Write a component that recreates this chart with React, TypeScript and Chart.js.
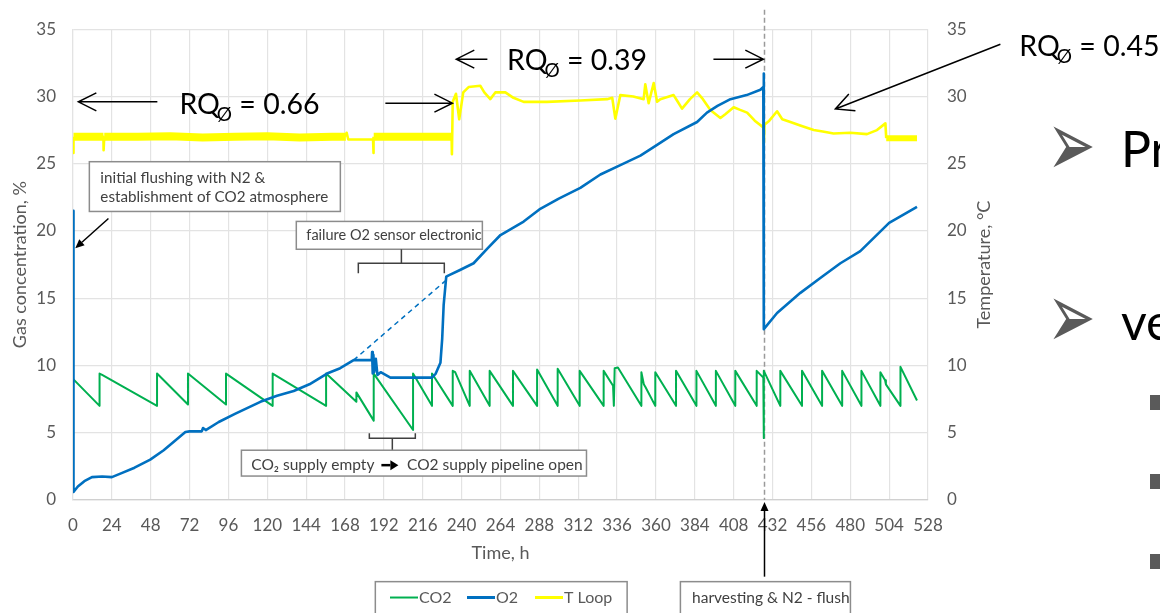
import React, { useEffect, useRef } from "react";
import { Chart, registerables } from "chart.js";

Chart.register(...registerables);

// ---------------- data ----------------
const X_MIN = 0;
const X_MAX = 528;
const X_STEP = 24;
const Y_MAX = 35;
const Y_STEP = 5;

const SERIES_NAMES = ["CO2", "O2", "T Loop"];

const CO2_TIME = [
  0, 16.4, 16.4, 18, 51.9, 51.9, 71.0, 71.0, 94.5, 94.5, 123.3, 123.3, 156.3, 156.3,
  175.0, 175.0, 185.7, 185.7, 210.0, 210.0, 221.7, 221.7, 234.5, 234.5, 236, 245.0, 245.0,
  257.3, 257.3, 271.7, 271.7, 286.6, 286.6, 299.3, 299.3, 312.9, 312.9, 327.7, 327.7,
  333.5, 334.0, 334.5, 336.5, 351.0, 351.0, 352.5, 353.5, 359.6, 359.6, 372.4, 372.4,
  385.0, 385.0, 397.0, 397.0, 409.0, 409.0, 422.2, 422.2, 426.3, 426.5, 426.7, 436.8,
  436.8, 450.2, 450.2, 462.6, 462.6, 475.0, 475.0, 486.9, 486.9, 498.6, 498.6, 501.5,
  502.0, 511.0, 511.0, 521.2,
];
const CO2_VALUE = [
  9.0, 7.0, 9.4, 9.3, 7.0, 9.4, 7.1, 9.4, 7.1, 9.4, 7.0, 9.4, 7.0, 9.4,
  7.3, 8.0, 5.9, 9.4, 5.2, 9.4, 7.0, 9.4, 7.0, 9.6, 9.5, 7.0, 9.6,
  7.0, 9.6, 7.0, 9.6, 7.0, 9.7, 7.0, 9.75, 7.0, 9.6, 7.0, 9.6,
  8.5, 7.0, 9.8, 9.85, 7.0, 9.5, 8.6, 8.4, 7.0, 9.5, 7.0, 9.6,
  7.0, 9.6, 7.0, 9.6, 7.0, 9.6, 7.0, 9.6, 9.1, 4.6, 9.6, 7.0,
  9.6, 7.0, 9.6, 7.0, 9.6, 7.0, 9.6, 7.0, 9.6, 7.0, 9.5, 8.9,
  8.6, 7.0, 9.9, 7.4,
];

const O2_TIME = [
  0, 0.2, 0.4, 3, 7, 11.7, 18, 24, 30, 38, 47.7, 56, 65, 69.4, 72, 79.5, 80.3, 82, 90,
  100, 115.7, 126, 136.3, 146, 156.9, 165, 173.3, 184.5, 184.7, 185.1, 185.5, 186.0,
  187.0, 188.0, 190, 196, 221.7, 224, 226.9, 228.0, 228.9, 230.5, 232, 239, 247.4, 256,
  264, 278.3, 288, 300, 313.3, 325.7, 338, 350.4, 360.7, 370.9, 385.4, 391.5, 398, 406,
  416, 424.5, 426.3, 426.5, 426.7, 434.8, 449.2, 461.5, 473.9, 486.2, 504, 521.2,
];
const O2_VALUE = [
  21.5, 14.0, 0.6, 1.0, 1.4, 1.7, 1.75, 1.7, 2.0, 2.4, 3.0, 3.7, 4.6, 5.05, 5.1, 5.1, 5.35, 5.2, 5.8,
  6.4, 7.3, 7.75, 8.1, 8.6, 9.4, 9.8, 10.4, 10.4, 11.0, 9.4, 10.8, 9.5,
  10.5, 9.3, 9.5, 9.1, 9.1, 9.4, 10.2, 12.0, 14.5, 16.6, 16.7, 17.1, 17.6, 18.7,
  19.7, 20.7, 21.6, 22.4, 23.2, 24.2, 24.9, 25.6, 26.4, 27.2, 28.1, 28.8, 29.3, 29.8,
  30.1, 30.5, 30.7, 31.7, 12.7, 13.9, 15.4, 16.5, 17.6, 18.5, 20.6, 21.8,
];

// extrapolated O2 during sensor failure (dashed)
const O2_TREND_TIME = [173.3, 231];
const O2_TREND_VALUE = [10.4, 16.4];

const T_TIME = [
  0, 0.3, 18.8, 18.9, 19.3, 40, 60, 80, 100, 120, 140, 160, 168.5, 169, 170, 185.3, 185.5,
  185.7, 233.8, 234.0, 234.5, 236.5, 238.5, 241, 244.3, 251.5, 254, 257.7, 260.8, 267,
  272, 278.3, 292.7, 313.3, 329.8, 333, 334.9, 338, 346, 352.4, 353.4, 355.5, 358.6,
  360.7, 362.7, 370.9, 373, 376.1, 381, 385.4, 389, 393.6, 399.8, 403, 408, 412, 416.3,
  421, 426.3, 426.6, 427, 430, 434.8, 438, 443, 450, 457.4, 463, 469.7, 480, 490.3,
  496.5, 501.7, 502.2, 521.2,
];
const T_VALUE = [
  25.8, 27.0, 27.0, 26.0, 27.0, 27.0, 27.05, 26.95, 27.0, 27.05, 26.95, 27.0, 27.0, 27.3, 26.8, 26.8, 25.8,
  27.0, 27.0, 25.7, 29.6, 30.2, 28.3, 30.3, 30.7, 30.8, 30.3, 29.8, 30.3, 30.3,
  29.9, 29.6, 29.6, 29.7, 29.8, 29.9, 28.35, 30.1, 30.0, 29.8, 30.9, 29.5, 31.0,
  29.6, 29.8, 30.1, 29.7, 29.1, 29.8, 30.3, 29.8, 29.0, 28.4, 28.7, 29.2, 29.0, 28.8,
  28.2, 27.7, 26.5, 27.9, 28.2, 28.9, 28.3, 28.1, 27.8, 27.5, 27.4, 27.25, 27.3, 27.2,
  27.5, 28.0, 26.9, 26.9,
];

// time windows in which the temperature signal oscillates quickly (drawn as a band)
const T_NOISY_WINDOWS: number[][] = [
  [0.3, 18.8],
  [19.3, 168.5],
  [185.7, 233.8],
  [502.2, 522],
];

const HARVEST_TIME = 427;

// ---------------- styles ----------------
const FONT = "Lato, 'DejaVu Sans', sans-serif";
const GREY_TEXT = "#595959";
const GRID = "#e3e3e3";
const COLORS = { co2: "#00b050", o2: "#0070c0", t: "#ffff00" };

const toPoints = (xs: number[], ys: number[]) => xs.map((x, i) => ({ x, y: ys[i] }));

function openArrow(ctx: CanvasRenderingContext2D, x1: number, y1: number, x2: number, y2: number, head = 18, spread = 9) {
  const a = Math.atan2(y2 - y1, x2 - x1);
  const bx = x2 - head * Math.cos(a);
  const by = y2 - head * Math.sin(a);
  const nx = -Math.sin(a) * spread;
  const ny = Math.cos(a) * spread;
  ctx.beginPath();
  ctx.moveTo(x1, y1);
  ctx.lineTo(x2, y2);
  ctx.moveTo(bx + nx, by + ny);
  ctx.lineTo(x2, y2);
  ctx.lineTo(bx - nx, by - ny);
  ctx.stroke();
}

function filledArrow(ctx: CanvasRenderingContext2D, x1: number, y1: number, x2: number, y2: number, head = 9, spread = 4) {
  const a = Math.atan2(y2 - y1, x2 - x1);
  const bx = x2 - head * Math.cos(a);
  const by = y2 - head * Math.sin(a);
  const nx = -Math.sin(a) * spread;
  const ny = Math.cos(a) * spread;
  ctx.beginPath();
  ctx.moveTo(x1, y1);
  ctx.lineTo(bx, by);
  ctx.stroke();
  ctx.beginPath();
  ctx.moveTo(x2, y2);
  ctx.lineTo(bx + nx, by + ny);
  ctx.lineTo(bx - nx, by - ny);
  ctx.closePath();
  ctx.fill();
}

function drawRQ(ctx: CanvasRenderingContext2D, x: number, y: number, val: string) {
  ctx.fillStyle = "#000";
  ctx.textAlign = "left";
  ctx.textBaseline = "alphabetic";
  ctx.font = `28.5px ${FONT}`;
  ctx.fillText("RQ", x, y);
  const w = ctx.measureText("RQ").width;
  ctx.font = `19px ${FONT}`;
  ctx.fillText("Ø", x + w - 3, y + 7);
  const w2 = ctx.measureText("Ø").width;
  ctx.font = `28.5px ${FONT}`;
  ctx.fillText(" = " + val, x + w - 3 + w2, y);
}

function box(ctx: CanvasRenderingContext2D, x1: number, y1: number, x2: number, y2: number) {
  ctx.fillStyle = "#fff";
  ctx.fillRect(x1, y1, x2 - x1, y2 - y1);
  ctx.strokeStyle = "#8c8c8c";
  ctx.lineWidth = 1.5;
  ctx.strokeRect(x1, y1, x2 - x1, y2 - y1);
}

const annotations = {
  id: "annotations",
  beforeDatasetsDraw(chart: any) {
    const ctx = chart.ctx as CanvasRenderingContext2D;
    const xs = chart.scales.x;
    const ys = chart.scales.y;
    const hx = Math.round(xs.getPixelForValue(HARVEST_TIME)) + 0.5;
    ctx.save();
    ctx.strokeStyle = "#9a9a9a";
    ctx.lineWidth = 1.5;
    ctx.setLineDash([5, 3]);
    ctx.beginPath();
    ctx.moveTo(hx, ys.getPixelForValue(36.45));
    ctx.lineTo(hx, ys.getPixelForValue(0));
    ctx.stroke();
    ctx.restore();
  },
  afterDatasetsDraw(chart: any) {
    const ctx = chart.ctx as CanvasRenderingContext2D;
    const xs = chart.scales.x;
    const ys = chart.scales.y;
    const X = (t: number) => xs.getPixelForValue(t);
    const Y = (v: number) => ys.getPixelForValue(v);
    ctx.save();

    // RQ arrows and labels
    ctx.strokeStyle = "#000";
    ctx.lineWidth = 1.5;
    openArrow(ctx, X(52.1), Y(29.6), X(3.3), Y(29.6));
    openArrow(ctx, X(192.9), Y(29.5), X(234.3), Y(29.5));
    openArrow(ctx, X(255.9), Y(32.77), X(236.7), Y(32.77));
    openArrow(ctx, X(395.5), Y(32.77), X(426.3), Y(32.77));
    openArrow(ctx, X(572.7), Y(33.88), X(470.8), Y(29.07));
    drawRQ(ctx, X(65.7), Y(28.7), "0.66");
    drawRQ(ctx, X(268), Y(31.93), "0.39");
    drawRQ(ctx, X(584.4), Y(33.04), "0.45");

    // initial flushing note
    box(ctx, X(10.1), Y(25.15), X(165.1), Y(21.45));
    ctx.fillStyle = "#404040";
    ctx.font = `15.2px ${FONT}`;
    ctx.textAlign = "left";
    ctx.textBaseline = "middle";
    ctx.fillText("initial flushing with N2 &", X(16.9), Y(23.96));
    ctx.fillText("establishment of CO2 atmosphere", X(16.9), Y(22.49));
    ctx.strokeStyle = "#000";
    ctx.fillStyle = "#000";
    ctx.lineWidth = 1.5;
    filledArrow(ctx, X(21.9), Y(20.93), X(1.4), Y(18.71));

    // sensor failure note
    box(ctx, X(137.9), Y(20.71), X(252.8), Y(18.64));
    ctx.fillStyle = "#404040";
    ctx.font = `14.5px ${FONT}`;
    ctx.fillText("failure O2 sensor electronic", X(144.1), Y(19.67));
    ctx.strokeStyle = "#404040";
    ctx.lineWidth = 1.5;
    ctx.beginPath();
    ctx.moveTo(X(176.2), Y(16.86));
    ctx.lineTo(X(176.2), Y(17.6));
    ctx.lineTo(X(229.3), Y(17.6));
    ctx.lineTo(X(229.3), Y(16.86));
    ctx.moveTo(X(202.8), Y(17.6));
    ctx.lineTo(X(202.8), Y(18.64));
    ctx.stroke();

    // CO2 supply note
    ctx.beginPath();
    ctx.moveTo(X(183.0), Y(4.96));
    ctx.lineTo(X(183.0), Y(4.59));
    ctx.lineTo(X(211.4), Y(4.59));
    ctx.lineTo(X(211.4), Y(4.96));
    ctx.moveTo(X(197.2), Y(4.59));
    ctx.lineTo(X(197.2), Y(3.7));
    ctx.stroke();
    box(ctx, X(104), Y(3.7), X(317.1), Y(1.78));
    ctx.fillStyle = "#404040";
    ctx.font = `15.5px ${FONT}`;
    const cy = Y(2.59);
    const left1 = "CO\u2082 supply empty";
    ctx.fillText(left1, X(110.1), cy);
    ctx.fillStyle = "#000";
    ctx.strokeStyle = "#000";
    ctx.lineWidth = 2.5;
    const ax = X(110.1) + ctx.measureText(left1).width + 7;
    filledArrow(ctx, ax, cy, ax + 17, cy, 8, 5);
    ctx.fillStyle = "#404040";
    ctx.fillText("CO2 supply pipeline open", X(206.3), cy);

    // harvest note
    ctx.strokeStyle = "#000";
    ctx.fillStyle = "#000";
    ctx.lineWidth = 1.5;
    const hx = Math.round(X(HARVEST_TIME)) + 0.5;
    filledArrow(ctx, hx, Y(-5.7), hx, Y(-0.15));
    box(ctx, X(375.1), Y(-6.07), X(480.1), Y(-8.6));
    ctx.fillStyle = "#404040";
    ctx.font = `15.5px ${FONT}`;
    ctx.fillText("harvesting & N2 - flush", X(382.3), Y(-7.25));

    // legend
    box(ctx, X(186.7), Y(-6.07), X(342.2), Y(-8.6));
    const ly = Y(-7.25);
    const items = [
      { c: COLORS.co2, w: 2, x: 390, name: SERIES_NAMES[0] },
      { c: COLORS.o2, w: 3, x: 467, name: SERIES_NAMES[1] },
      { c: COLORS.t, w: 3, x: 535, name: SERIES_NAMES[2] },
    ];
    ctx.font = `16px ${FONT}`;
    for (const it of items) {
      ctx.strokeStyle = it.c;
      ctx.lineWidth = it.w;
      ctx.beginPath();
      ctx.moveTo(it.x, ly);
      ctx.lineTo(it.x + 28, ly);
      ctx.stroke();
      ctx.fillStyle = GREY_TEXT;
      ctx.fillText(it.name, it.x + 29, ly);
    }

    // right axis title (reads bottom to top)
    ctx.save();
    ctx.translate(984, (chart.chartArea.top + chart.chartArea.bottom) / 2);
    ctx.rotate(-Math.PI / 2);
    ctx.textAlign = "center";
    ctx.fillStyle = GREY_TEXT;
    ctx.font = `18px ${FONT}`;
    ctx.fillText("Temperature, °C", 0, 0);
    ctx.restore();

    // slide text fragments at the right edge
    ctx.fillStyle = "#5a5a5a";
    ctx.font = `58px 'DejaVu Sans'`;
    ctx.textBaseline = "alphabetic";
    for (const by of [176, 348]) {
      ctx.save();
      ctx.translate(1047, by);
      ctx.scale(1, 1.6);
      ctx.fillText("\u27A2", 0, 0);
      ctx.restore();
    }
    ctx.fillStyle = "#000";
    ctx.font = `50px ${FONT}`;
    ctx.fillText("Pr", 1121, 167);
    ctx.fillText("ve", 1121, 340);
    ctx.fillStyle = "#5a5a5a";
    ctx.fillRect(1150, 395, 15, 15);
    ctx.fillRect(1150, 474, 15, 15);
    ctx.fillRect(1150, 554, 15, 15);

    ctx.restore();
  },
};

export default function App() {
  const ref = useRef<HTMLCanvasElement>(null);

  useEffect(() => {
    const canvas = ref.current;
    if (!canvas) return;
    const tickFont = { family: FONT, size: 17 };
    const titleFont = { family: FONT, size: 18 };
    const chart = new Chart(canvas, {
      type: "line",
      data: {
        datasets: [
          {
            label: SERIES_NAMES[0],
            data: toPoints(CO2_TIME, CO2_VALUE),
            borderColor: COLORS.co2,
            borderWidth: 2,
            pointRadius: 0,
            yAxisID: "y",
            order: 2,
          },
          {
            label: SERIES_NAMES[1],
            data: toPoints(O2_TIME, O2_VALUE),
            borderColor: COLORS.o2,
            borderWidth: 2.6,
            pointRadius: 0,
            yAxisID: "y",
            order: 1,
          },
          {
            label: "O2 (sensor failure)",
            data: toPoints(O2_TREND_TIME, O2_TREND_VALUE),
            borderColor: COLORS.o2,
            borderWidth: 1.5,
            borderDash: [5, 4],
            pointRadius: 0,
            yAxisID: "y",
            order: 1,
          },
          {
            label: SERIES_NAMES[2],
            data: toPoints(T_TIME, T_VALUE),
            borderColor: COLORS.t,
            borderWidth: 2.6,
            pointRadius: 0,
            yAxisID: "y1",
            order: 3,
            segment: {
              borderWidth: (c: any) => {
                const a = c.p0.parsed.x;
                const b = c.p1.parsed.x;
                for (const w of T_NOISY_WINDOWS) {
                  if (a >= w[0] && b <= w[1]) return w[1] > 500 ? 6 : 8;
                }
                return undefined;
              },
            },
          },
        ],
      },
      options: {
        responsive: false,
        animation: false,
        parsing: true,
        layout: { padding: { top: 27, left: 0, right: 0, bottom: 0 } },
        plugins: { legend: { display: false }, tooltip: { enabled: false } },
        elements: { line: { tension: 0, borderJoinStyle: "round" } },
        scales: {
          x: {
            type: "linear",
            min: X_MIN,
            max: X_MAX,
            afterFit: (s: any) => {
              s.height = 113;
            },
            ticks: {
              stepSize: X_STEP,
              autoSkip: false,
              maxRotation: 0,
              color: GREY_TEXT,
              font: tickFont,
              padding: 15,
            },
            grid: { color: GRID, lineWidth: 1.2, drawTicks: false },
            border: { color: "#d0d0d0", width: 1.2 },
            title: {
              display: true,
              text: "Time, h",
              color: GREY_TEXT,
              font: titleFont,
              padding: { top: 0, bottom: 49 },
            },
          },
          y: {
            type: "linear",
            position: "left",
            min: 0,
            max: Y_MAX,
            afterFit: (s: any) => {
              s.width = 73;
            },
            ticks: { stepSize: Y_STEP, color: GREY_TEXT, font: tickFont, padding: 17 },
            grid: { color: GRID, lineWidth: 1.2, drawTicks: false },
            border: { display: true, color: GRID, width: 1.2 },
            title: {
              display: true,
              text: "Gas concentration, %",
              color: GREY_TEXT,
              font: titleFont,
              padding: { top: 9, bottom: 0 },
            },
          },
          y1: {
            type: "linear",
            position: "right",
            min: 0,
            max: Y_MAX,
            afterFit: (s: any) => {
              s.width = 232;
            },
            ticks: { stepSize: Y_STEP, color: GREY_TEXT, font: tickFont, padding: 19 },
            grid: { display: false, drawTicks: false },
            border: { display: false },
          },
        },
      },
      plugins: [annotations],
    });
    return () => chart.destroy();
  }, []);

  return (
    <div style={{ position: "absolute", left: 0, top: 0, width: 1160, height: 613, background: "#fff", overflow: "hidden" }}>
      <canvas ref={ref} width={1160} height={613} style={{ display: "block" }} />
    </div>
  );
}
